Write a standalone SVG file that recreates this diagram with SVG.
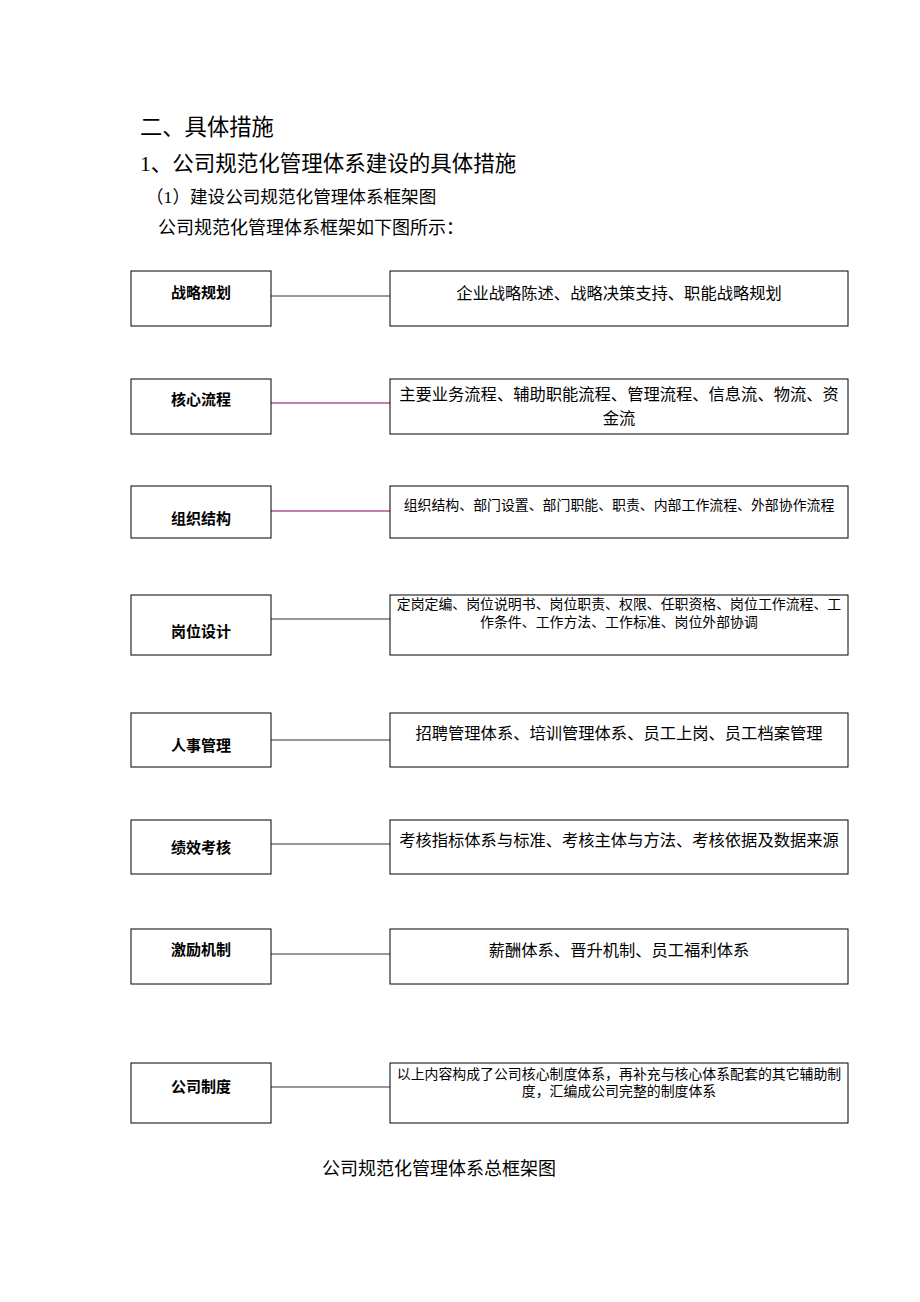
<svg xmlns="http://www.w3.org/2000/svg" width="920" height="1302" viewBox="0 0 920 1302">
<style>
text{font-family:"Liberation Serif","Noto Sans CJK SC",serif;fill:#000}
.b{fill:#fff;stroke:#000;stroke-width:1}
.l{font-family:"Liberation Sans","Noto Sans CJK SC",sans-serif;font-weight:bold;font-size:15px;text-anchor:middle}
.r{font-size:16.3px;text-anchor:middle}
.s{font-size:13.9px;text-anchor:middle}
.c{stroke:#333;stroke-width:1}
.p{stroke:#800060;stroke-width:1}
</style>
<rect width="920" height="1302" fill="#fff"/>
<text x="140" y="135" font-size="22.3">二、具体措施</text>
<text x="140" y="171" font-size="21.5">1、公司规范化管理体系建设的具体措施</text>
<text x="146" y="203" font-size="17.6">（1）建设公司规范化管理体系框架图</text>
<text x="158" y="234" font-size="18">公司规范化管理体系框架如下图所示：</text>
<g id="connectors">
<line class="c" x1="271" y1="296" x2="390" y2="296"/>
<line class="p" x1="271" y1="403" x2="390" y2="403"/>
<line class="p" x1="271" y1="511" x2="390" y2="511"/>
<line class="c" x1="271" y1="619" x2="390" y2="619"/>
<line class="c" x1="271" y1="740" x2="390" y2="740"/>
<line class="c" x1="271" y1="844" x2="390" y2="844"/>
<line class="c" x1="271" y1="954" x2="390" y2="954"/>
<line class="c" x1="271" y1="1087" x2="390" y2="1087"/>
</g>
<g id="n1"><rect class="b" x="131" y="271" width="140" height="55"/><text class="l" x="201" y="298">战略规划</text></g>
<g id="d1"><rect class="b" x="390" y="271" width="458" height="55"/><text class="r" x="619" y="299">企业战略陈述、战略决策支持、职能战略规划</text></g>
<g id="n2"><rect class="b" x="131" y="379" width="140" height="55"/><text class="l" x="201" y="405">核心流程</text></g>
<g id="d2"><rect class="b" x="390" y="379" width="458" height="55"/><text class="r" x="619" y="400">主要业务流程、辅助职能流程、管理流程、信息流、物流、资</text><text class="r" x="619" y="424">金流</text></g>
<g id="n3"><rect class="b" x="131" y="486" width="140" height="52"/><text class="l" x="201" y="524">组织结构</text></g>
<g id="d3"><rect class="b" x="390" y="486" width="458" height="52"/><text class="s" x="619" y="510">组织结构、部门设置、部门职能、职责、内部工作流程、外部协作流程</text></g>
<g id="n4"><rect class="b" x="131" y="595" width="140" height="60"/><text class="l" x="201" y="637">岗位设计</text></g>
<g id="d4"><rect class="b" x="390" y="595" width="458" height="60"/><text class="s" x="619" y="609">定岗定编、岗位说明书、岗位职责、权限、任职资格、岗位工作流程、工</text><text class="s" x="619" y="627">作条件、工作方法、工作标准、岗位外部协调</text></g>
<g id="n5"><rect class="b" x="131" y="713" width="140" height="54"/><text class="l" x="201" y="751">人事管理</text></g>
<g id="d5"><rect class="b" x="390" y="713" width="458" height="54"/><text class="r" x="619" y="739">招聘管理体系、培训管理体系、员工上岗、员工档案管理</text></g>
<g id="n6"><rect class="b" x="131" y="820" width="140" height="54"/><text class="l" x="201" y="853">绩效考核</text></g>
<g id="d6"><rect class="b" x="390" y="820" width="458" height="54"/><text class="r" x="619" y="846">考核指标体系与标准、考核主体与方法、考核依据及数据来源</text></g>
<g id="n7"><rect class="b" x="131" y="929" width="140" height="55"/><text class="l" x="201" y="955">激励机制</text></g>
<g id="d7"><rect class="b" x="390" y="929" width="458" height="55"/><text class="r" x="619" y="956">薪酬体系、晋升机制、员工福利体系</text></g>
<g id="n8"><rect class="b" x="131" y="1063" width="140" height="60"/><text class="l" x="201" y="1092">公司制度</text></g>
<g id="d8"><rect class="b" x="390" y="1063" width="458" height="60"/><text class="s" x="619" y="1079">以上内容构成了公司核心制度体系，再补充与核心体系配套的其它辅助制</text><text class="s" x="619" y="1096">度，汇编成公司完整的制度体系</text></g>
<text x="439" y="1175" font-size="18" text-anchor="middle">公司规范化管理体系总框架图</text>
</svg>
